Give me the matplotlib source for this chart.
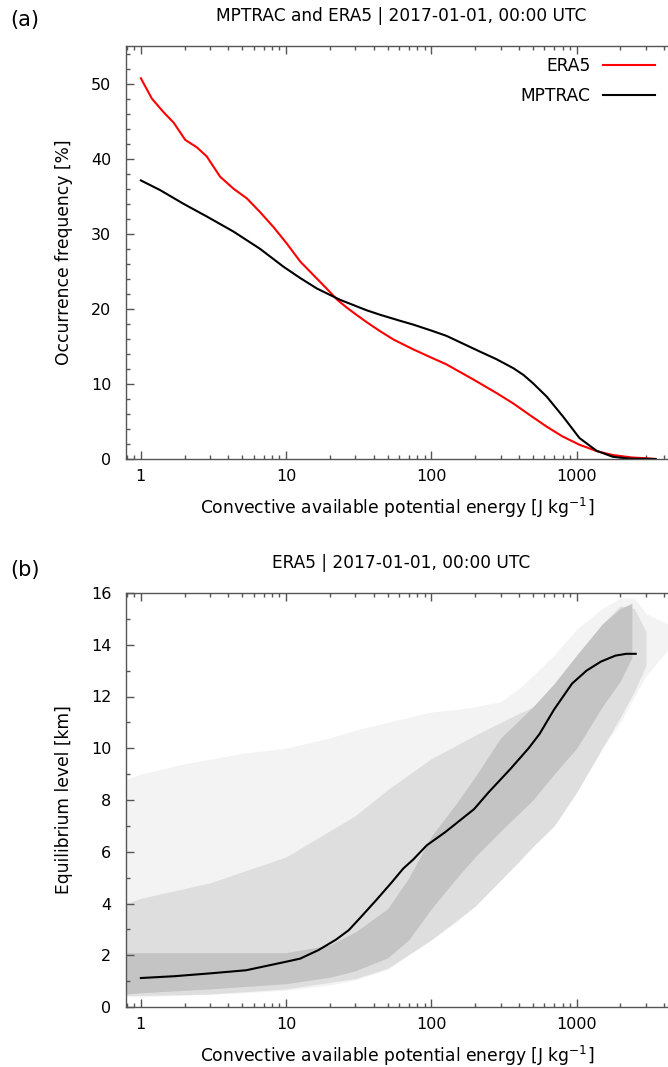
import numpy as np
import matplotlib
matplotlib.use("Agg")
import matplotlib.pyplot as plt
from matplotlib.ticker import LogLocator, FixedLocator, NullFormatter, MultipleLocator

plt.rcParams['font.family'] = ['DejaVu Sans']

# ---------------- data: panel (a) ----------------
era5_cape = [1, 1.19, 1.43, 1.68, 2.02, 2.43, 2.84, 3.51, 4.34, 5.37, 6.6, 8.17, 10.1,
             12.5, 15.4, 19.0, 22.5, 26, 30, 36, 44.5, 55, 75, 100, 127, 194, 280, 366,
             480, 623, 800, 1045, 1400, 1774, 2400, 3015, 3500]
era5_freq = [50.7, 48.0, 46.2, 44.8, 42.5, 41.5, 40.3, 37.6, 36.0, 34.7, 32.9, 30.9, 28.7,
             26.3, 24.5, 22.7, 21.2, 20.2, 19.3, 18.2, 17.0, 15.9, 14.6, 13.5, 12.6, 10.6,
             8.8, 7.4, 5.8, 4.3, 3.0, 1.9, 1.0, 0.53, 0.2, 0.1, 0.0]

mptrac_cape = [1, 1.36, 1.96, 2.84, 4.33, 6.6, 9.6, 12.5, 16.3, 23.5, 35.9, 44.5, 61, 75,
               100, 127, 216, 280, 366, 430, 500, 623, 810, 1045, 1370, 1774, 2300, 3500]
mptrac_freq = [37.1, 35.8, 34.0, 32.3, 30.3, 28.0, 25.6, 24.1, 22.7, 21.2, 19.8, 19.2, 18.4,
               17.9, 17.1, 16.4, 14.3, 13.3, 12.1, 11.2, 10.1, 8.3, 5.6, 2.8, 1.1, 0.3,
               0.05, 0.0]

# ---------------- data: panel (b) ----------------
el_cape = [1, 1.7, 3, 5.3, 10, 12.5, 16.7, 22, 27, 33, 42, 53, 64, 75, 93, 124, 197, 248,
           350, 467, 555, 700, 930, 1170, 1470, 1850, 2200, 2550]
el_km = [1.12, 1.19, 1.30, 1.42, 1.75, 1.87, 2.2, 2.6, 2.97, 3.5, 4.15, 4.8, 5.35, 5.7,
         6.25, 6.75, 7.65, 8.3, 9.2, 10.0, 10.55, 11.5, 12.5, 13.0, 13.35, 13.58, 13.65,
         13.65]

# envelopes of the scattered ERA5 grid points
sparse_cape = [0.79, 1, 2, 5, 10, 20, 30, 50, 100, 150, 200, 300, 400, 500, 700, 1000,
               1500, 2000, 2500, 3000, 4256]
sparse_top = [8.8, 9.0, 9.4, 9.8, 10.0, 10.4, 10.7, 11.0, 11.4, 11.5, 11.6, 11.8, 12.3,
              12.8, 13.6, 14.6, 15.4, 15.8, 15.8, 15.2, 14.8]
sparse_bot = [0.4, 0.4, 0.45, 0.55, 0.65, 0.85, 1.05, 1.45, 2.6, 3.3, 3.9, 4.9, 5.6, 6.2,
              7.0, 8.3, 10.0, 11.0, 12.0, 12.8, 13.8]

mid_cape = [0.79, 1, 3, 10, 30, 50, 100, 200, 300, 500, 700, 1000, 1500, 2000, 2500, 3000]
mid_top = [4.0, 4.2, 4.8, 5.8, 7.4, 8.4, 9.6, 10.5, 11.0, 11.6, 12.3, 13.5, 14.8, 15.5,
           15.4, 14.5]
mid_bot = [0.45, 0.45, 0.5, 0.7, 1.1, 1.5, 2.6, 3.9, 4.9, 6.2, 7.0, 8.3, 10.0, 11.2, 12.2,
           13.2]

core_cape = [0.79, 1, 3, 10, 20, 30, 50, 70, 100, 150, 200, 300, 500, 700, 1000, 1500,
             2000, 2400]
core_top = [2.1, 2.1, 2.1, 2.1, 2.4, 2.9, 3.8, 5.0, 6.6, 7.9, 8.9, 10.4, 11.6, 12.5, 13.6,
            14.8, 15.4, 15.6]
core_bot = [0.5, 0.55, 0.7, 0.9, 1.15, 1.4, 1.9, 2.6, 3.8, 5.0, 5.8, 6.8, 8.0, 9.0, 10.0,
            11.6, 12.6, 13.5]

XLIM = (0.79, 4256)
W, H = 668, 1067
fig = plt.figure(figsize=(W / 100, H / 100), dpi=100)

spine_col = '#555555'
fs_tick = 11.5
fs_label = 12.3


def style(ax, ymajor, yminor, ylim):
    ax.set_xscale('log')
    ax.set_xlim(*XLIM)
    ax.set_ylim(*ylim)
    ax.xaxis.set_major_locator(FixedLocator([1, 10, 100, 1000]))
    ax.xaxis.set_minor_locator(LogLocator(base=10, subs=np.arange(2, 10) * 1.0, numticks=20))
    ax.xaxis.set_minor_formatter(NullFormatter())
    ax.set_xticklabels(['1', '10', '100', '1000'])
    ax.yaxis.set_major_locator(MultipleLocator(ymajor))
    ax.yaxis.set_minor_locator(MultipleLocator(yminor))
    for s in ['left', 'top', 'bottom']:
        ax.spines[s].set_color(spine_col)
        ax.spines[s].set_linewidth(1.0)
    ax.spines['right'].set_visible(False)
    ax.tick_params(which='both', direction='in', top=True, right=False,
                   color=spine_col, labelsize=fs_tick, labelcolor='black')
    ax.tick_params(which='major', length=6, width=1.0)
    ax.tick_params(axis='x', which='major', pad=7)
    ax.tick_params(axis='y', which='major', pad=10.5)
    ax.tick_params(which='minor', length=3, width=1.0)
    ax.set_xlabel('Convective available potential energy [J kg$^{-1}$]', fontsize=fs_label,
                  labelpad=9)


# ---------------- panel (a) ----------------
ax1 = fig.add_axes([126 / W, 1 - 459 / H, (W - 126) / W, (459 - 46) / H])
style(ax1, 10, 2, (0, 55))
ax1.plot(era5_cape, era5_freq, color='#ff0000', lw=1.5, label='ERA5')
ax1.plot(mptrac_cape, mptrac_freq, color='black', lw=1.5, label='MPTRAC')
ax1.set_ylabel('Occurrence frequency [%]', fontsize=fs_label, labelpad=13)
leg = ax1.legend(loc='upper right', frameon=False, markerfirst=False, fontsize=fs_label,
                 handlelength=3.1, handletextpad=0.7, labelspacing=0.7,
                 borderaxespad=0.0, bbox_to_anchor=(0.9895, 0.99))

# ---------------- panel (b) ----------------
ax2 = fig.add_axes([126 / W, 1 - 1007 / H, (W - 126) / W, (1007 - 593) / H])
style(ax2, 2, 1, (0, 16))
ax2.fill_between(sparse_cape, sparse_bot, sparse_top, color='#f3f3f3', lw=0)
ax2.fill_between(mid_cape, mid_bot, mid_top, color='#dedede', lw=0)
ax2.fill_between(core_cape, core_bot, core_top, color='#c4c4c4', lw=0)
ax2.plot(el_cape, el_km, color='black', lw=1.5)
ax2.set_ylabel('Equilibrium level [km]', fontsize=fs_label, labelpad=13)

# titles and panel labels
fig.text(401 / W, 1 - 16 / H, 'MPTRAC and ERA5 | 2017-01-01, 00:00 UTC', ha='center',
         va='center', fontsize=12.25)
fig.text(401 / W, 1 - 563 / H, 'ERA5 | 2017-01-01, 00:00 UTC', ha='center', va='center',
         fontsize=12.25)
fig.text(25 / W, 1 - 20 / H, '(a)', ha='center', va='center', fontsize=15)
fig.text(25 / W, 1 - 570 / H, '(b)', ha='center', va='center', fontsize=15)

fig.savefig('out.png', dpi=100)
